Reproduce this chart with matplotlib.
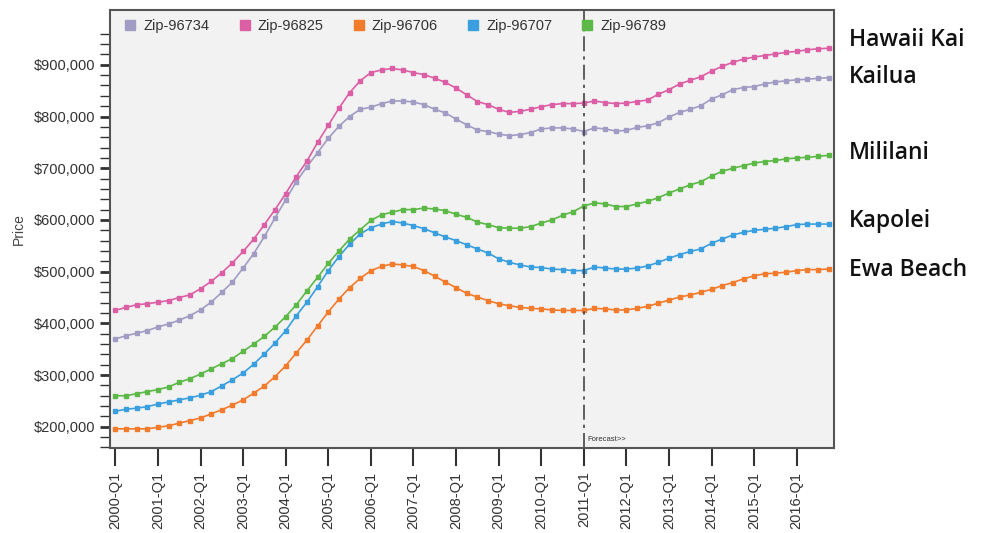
import matplotlib
matplotlib.use("Agg")
import matplotlib.pyplot as plt
from matplotlib.lines import Line2D
from matplotlib.ticker import FixedLocator, FuncFormatter
import numpy as np

# Quarterly prices in thousands, 2000-Q1 .. 2016-Q4
zip_96734 = [370, 376, 381, 386, 393, 399, 406, 415, 426, 441, 460, 480, 507, 535, 568, 604, 639, 674,
             703, 730, 758, 781, 800, 814, 818, 825, 830, 830, 828, 823, 814, 807, 795, 784, 774,
             771, 766, 763, 765, 769, 776, 778, 778, 776, 771, 778, 776, 772, 773, 779, 782, 788,
             799, 808, 814, 821, 834, 842, 852, 856, 858, 863, 867, 869, 871, 872, 874, 875]
zip_96825 = [425, 431, 436, 438, 441, 444, 450, 455, 467, 481, 498, 517, 539, 563, 591, 620, 651, 684,
             714, 750, 783, 816, 846, 869, 885, 890, 893, 890, 885, 881, 874, 866, 855, 842, 829,
             823, 814, 808, 810, 814, 819, 823, 825, 825, 826, 830, 827, 825, 826, 829, 832, 843,
             852, 863, 870, 877, 888, 897, 905, 911, 915, 918, 921, 924, 926, 929, 931, 932]
zip_96706 = [196, 196, 196, 196, 199, 202, 207, 212, 217, 225, 233, 242, 252, 265, 279, 297, 318, 343,
             368, 395, 422, 447, 469, 487, 502, 510, 515, 513, 510, 502, 491, 480, 469, 458, 451,
             444, 438, 434, 431, 429, 428, 426, 425, 425, 425, 429, 428, 426, 426, 429, 433, 439,
             445, 451, 455, 460, 466, 473, 479, 486, 492, 496, 497, 499, 502, 504, 504, 505]
zip_96707 = [230, 234, 236, 239, 244, 248, 252, 256, 261, 268, 279, 291, 304, 321, 341, 362, 386, 415,
             441, 471, 502, 529, 553, 573, 585, 592, 597, 594, 589, 583, 575, 567, 560, 552, 544,
             536, 525, 518, 513, 509, 508, 505, 504, 502, 502, 509, 507, 505, 505, 507, 511, 518,
             526, 533, 539, 544, 555, 563, 571, 576, 580, 582, 584, 587, 591, 592, 592, 592]
zip_96789 = [260, 260, 264, 268, 272, 277, 286, 293, 302, 312, 322, 332, 346, 360, 375, 393, 413, 436,
             463, 489, 516, 540, 563, 581, 599, 610, 615, 620, 620, 623, 621, 618, 611, 605, 596,
             591, 585, 584, 584, 587, 594, 600, 609, 616, 627, 633, 631, 626, 626, 631, 636, 643,
             652, 660, 668, 674, 685, 694, 700, 705, 710, 713, 715, 718, 720, 721, 723, 725]

series_names = ["Zip-96734", "Zip-96825", "Zip-96706", "Zip-96707", "Zip-96789"]
series = [zip_96734, zip_96825, zip_96706, zip_96707, zip_96789]
colors = ["#a09cc4", "#dc5fa6", "#f27b2c", "#3a9fde", "#5cb947"]

years = list(range(2000, 2017))
year_labels = [f"{y}-Q1" for y in years]
forecast_start = "2011-Q1"

towns = ["Hawaii Kai", "Kailua", "Mililani", "Kapolei", "Ewa Beach"]
town_y = [40, 77, 153, 221, 270]  # pixel rows in the figure

plt.rcParams['font.family'] = ['Liberation Sans', 'DejaVu Sans']

fig = plt.figure(figsize=(9.83, 5.33), dpi=100)
fig.patch.set_facecolor('white')
ax = fig.add_axes([110 / 983, 1 - 448 / 533, 724 / 983, 438 / 533])
ax.set_facecolor('#f2f2f2')

n = len(zip_96734)
x = np.arange(n)
for vals, c in zip(series, colors):
    ax.plot(x, np.array(vals) * 1000, '-s', color=c, lw=1.2, ms=3.2, mec=c)

fx = year_labels.index(forecast_start) * 4
ax.axvline(fx, color='#444444', lw=1.2, ls=(0, (9, 3, 2, 3)))
ax.text(fx + 0.3, 176000, "Forecast>>", fontsize=5.5, color='#333333', va='center')

ax.set_xlim(-0.5, n - 0.5)
ax.set_ylim(159000, 1006000)
ax.set_xticks(np.arange(0, n, 4))
ax.set_xticklabels(year_labels, rotation=90, fontsize=10.5, color='#333333')
ax.yaxis.set_major_locator(FixedLocator(np.arange(200000, 900001, 100000)))
ax.yaxis.set_minor_locator(FixedLocator(np.arange(160000, 960001, 20000)))
ax.yaxis.set_major_formatter(FuncFormatter(lambda v, p: f"${v:,.0f}"))
ax.tick_params(axis='y', which='major', length=7, width=2, labelsize=10.5, labelcolor='#333333', color='#333333')
ax.tick_params(axis='y', which='minor', length=7, width=1, color='#333333')
ax.tick_params(axis='x', length=13, width=1.5, pad=4, color='#333333')
for s in ax.spines.values():
    s.set_color('#555555')
    s.set_linewidth(1.5)
ax.set_ylabel("Price", fontsize=10, color='#444444', labelpad=6)

handles = [Line2D([], [], marker='s', ls='none', color=c, ms=7) for c in colors]
ax.legend(handles, series_names, loc='upper left', bbox_to_anchor=(0.0, 1.01), ncol=5,
          frameon=False, fontsize=10.5, handletextpad=0.4, columnspacing=1.9, handlelength=1.0,
          labelcolor='#333333')

for t, py in zip(towns, town_y):
    fig.text(849 / 983, 1 - py / 533, t, fontsize=16.5, color='#111111', va='center', ha='left',
             family=['Open Sans', 'DejaVu Sans'], weight='semibold')

fig.savefig("out.png", dpi=100)
